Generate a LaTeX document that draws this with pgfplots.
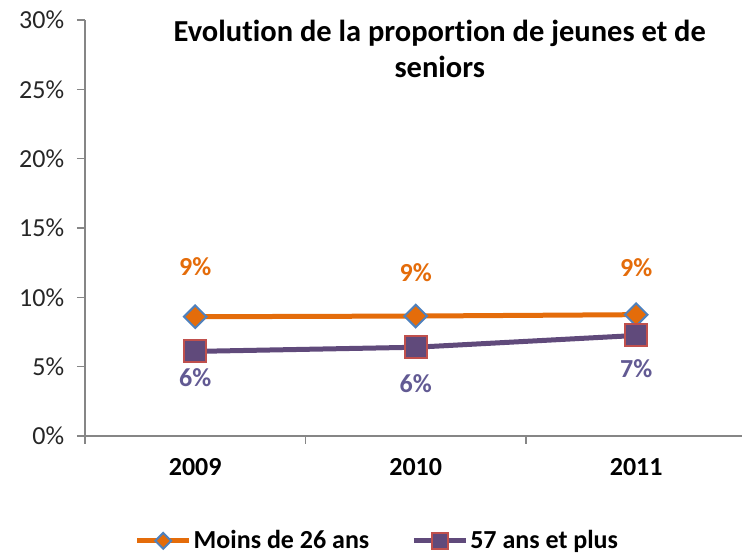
\documentclass[border=0pt]{standalone}
\usepackage{fontspec}
\setmainfont{Carlito}[Ligatures=NoCommon]
\usepackage{pgfplots}
\pgfplotsset{compat=1.18}

\definecolor{jeunes}{HTML}{E46C0A}
\definecolor{seniors}{HTML}{604A7B}
\definecolor{seniorslab}{HTML}{625A93}
\definecolor{diamedge}{HTML}{4F81BD}
\definecolor{sqedge}{HTML}{C0504D}
\definecolor{axisgray}{HTML}{868686}

\pgfplotstableread{
x y lab dy
0 8.60 9\% 50
1 8.65 9\% 43
2 8.75 9\% 47
}\jeunestab
\pgfplotstableread{
x y lab dy
0 6.10 6\% -26
1 6.40 6\% -36
2 7.25 7\% -33
}\seniorstab

\begin{document}
\fontsize{26}{31}\selectfont
\begin{tikzpicture}
\begin{axis}[
    scale only axis,
    width=657pt, height=416pt,
    xmin=-0.5, xmax=2.48,
    ymin=0, ymax=30,
    clip=false,
    axis lines*=left,
    axis line style={draw=axisgray, line width=1.3pt},
    tick style={draw=axisgray, line width=1.3pt},
    tick align=outside,
    major tick length=8pt,
    minor tick length=8pt,
    ytick={0,5,...,30},
    yticklabel={\pgfmathprintnumber{\tick}\%},
    y tick label style={font=\fontsize{26}{31}\selectfont, /pgf/number format/assume math mode=true, xshift=-4pt, text=black!85},
    xtick={0,1,2},
    xticklabels={2009,2010,2011},
    x tick label style={font=\fontsize{26}{31}\selectfont\bfseries, yshift=-6pt},
    every major x tick/.style={draw=none},
    minor xtick={-0.5,0.5,1.5},
    nodes near coords,
    point meta=explicit symbolic,
    legend columns=2,
    legend style={draw=none, fill=none, at={(rel axis cs:0.445,-0.252)}, anchor=center,
        font=\fontsize{26}{31}\selectfont\bfseries,
        /tikz/every even column/.append style={column sep=40pt}},
    legend image code/.code={
        \draw[mark repeat=2, mark phase=2, #1, /tikz/every mark/.append style={scale=0.7}]
            plot coordinates {(0pt,0pt) (26pt,0pt) (52pt,0pt)};
    },
]
\addplot[jeunes, line width=5pt, mark=square*,
    mark options={fill=jeunes, draw=diamedge, line width=2pt, rotate=45},
    mark size=8pt,
    visualization depends on={\thisrow{dy} \as \dy},
    every node near coord/.style={anchor=center, yshift=\dy pt, text=jeunes,
        font=\fontsize{26}{31}\selectfont\bfseries}]
    table[x=x, y=y, meta=lab] {\jeunestab};
\addlegendentry{Moins de 26 ans}
\addplot[seniors, line width=5pt, mark=square*,
    mark options={fill=seniors, draw=sqedge, line width=2pt},
    mark size=11pt,
    visualization depends on={\thisrow{dy} \as \dy},
    every node near coord/.style={anchor=center, yshift=\dy pt, text=seniorslab,
        font=\fontsize{26}{31}\selectfont\bfseries}]
    table[x=x, y=y, meta=lab] {\seniorstab};
\addlegendentry{57 ans et plus}
\node[anchor=base, font=\fontsize{30.5}{36}\selectfont\bfseries] at (rel axis cs:0.54,0.948) {Evolution de la proportion de jeunes et de};
\node[anchor=base, font=\fontsize{30.5}{36}\selectfont\bfseries] at (rel axis cs:0.54,0.862) {seniors};
\end{axis}
\pgfresetboundingbox
\path[use as bounding box] (-85pt,-117pt) rectangle (657pt,436pt);
\end{tikzpicture}
\end{document}
